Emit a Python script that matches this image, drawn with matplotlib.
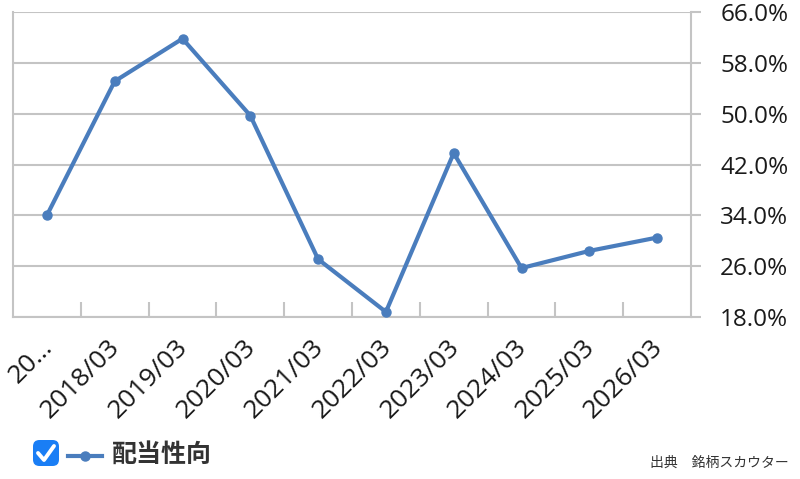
import matplotlib
matplotlib.use("Agg")
import matplotlib.pyplot as plt
from matplotlib.patches import FancyBboxPatch
from matplotlib.lines import Line2D
from matplotlib.transforms import ScaledTranslation
import numpy as np

categories = ["20…", "2018/03", "2019/03", "2020/03", "2021/03", "2022/03",
              "2023/03", "2024/03", "2025/03", "2026/03"]
payout_ratio = [34.0, 55.1, 61.8, 49.7, 27.1, 18.8, 43.8, 25.7, 28.4, 30.5]
y_ticks = [18.0, 26.0, 34.0, 42.0, 50.0, 58.0, 66.0]
series_name = "配当性向"
source_text = "出典　銘柄スカウター"

W, H = 800, 479
fig = plt.figure(figsize=(W / 100, H / 100), dpi=100)
ax = fig.add_axes([13 / W, 1 - 317 / H, (691 - 13) / W, (317 - 12) / H])

line_color = "#4a7dbd"
grid_color = "#c4c4c4"
num_font = ["Open Sans", "Noto Sans CJK JP"]
jp_font = ["Noto Sans CJK JP", "DejaVu Sans"]

x = np.arange(len(categories))
ax.plot(x, payout_ratio, color=line_color, lw=3.0, marker="o", ms=6.5,
        solid_joinstyle="round", zorder=3, clip_on=False)

ax.set_xlim(-0.5, len(categories) - 0.5)
ax.set_ylim(y_ticks[0], y_ticks[-1])

# y axis on the right
ax.yaxis.tick_right()
ax.set_yticks(y_ticks)
ax.set_yticklabels([f"{v:.1f}%" for v in y_ticks], fontfamily=num_font, fontsize=17.5)
ax.tick_params(axis="y", which="major", direction="out", length=7, width=1.5,
               color=grid_color, pad=14, labelcolor="#1a1a1a")
ax.grid(axis="y", color=grid_color, lw=1.5, zorder=0)

# x axis
ax.set_xticks(x)
ax.set_xticklabels(categories, rotation=45, ha="right", va="top",
                   rotation_mode="anchor", fontfamily=num_font, fontsize=19,
                   color="#1a1a1a")
ax.tick_params(axis="x", which="major", length=0, pad=13)
offset = ScaledTranslation(-7 / 100, 0, fig.dpi_scale_trans)
for lbl in ax.get_xticklabels():
    lbl.set_transform(lbl.get_transform() + offset)
ax.set_xticks(np.arange(0.5, len(categories) - 1, 1.0), minor=True)
ax.tick_params(axis="x", which="minor", direction="in", length=11, width=1.5,
               color=grid_color)

for side in ["left", "right", "bottom"]:
    ax.spines[side].set_color(grid_color)
    ax.spines[side].set_linewidth(1.5)
ax.spines["top"].set_visible(False)

# legend: checkbox, line sample, label
cb = FancyBboxPatch((33 / W, 1 - 466 / H), 26 / W, 26 / H,
                    boxstyle="round,pad=0,rounding_size=0.008",
                    transform=fig.transFigure, facecolor="#1a7ef5",
                    edgecolor="none", mutation_aspect=W / H)
fig.patches.append(cb)
fig.lines.append(Line2D([38 / W, 44 / W, 54 / W], [1 - 453 / H, 1 - 460 / H, 1 - 446 / H],
                        transform=fig.transFigure, color="white", lw=2.8,
                        solid_capstyle="round", solid_joinstyle="round"))
fig.lines.append(Line2D([68 / W, 102 / W], [1 - 456 / H, 1 - 456 / H],
                        transform=fig.transFigure, color=line_color, lw=3.0))
fig.lines.append(Line2D([85 / W], [1 - 456 / H], transform=fig.transFigure,
                        color=line_color, marker="o", ms=6.5, lw=0))
fig.text(112 / W, 1 - 455 / H, series_name, fontfamily=jp_font, fontsize=18,
         fontweight="bold", color="#333333", va="center", ha="left")

fig.text(789 / W, 1 - 463 / H, source_text, fontfamily=jp_font, fontsize=10,
         color="#333333", va="center", ha="right")

fig.savefig("out.png", dpi=100)
